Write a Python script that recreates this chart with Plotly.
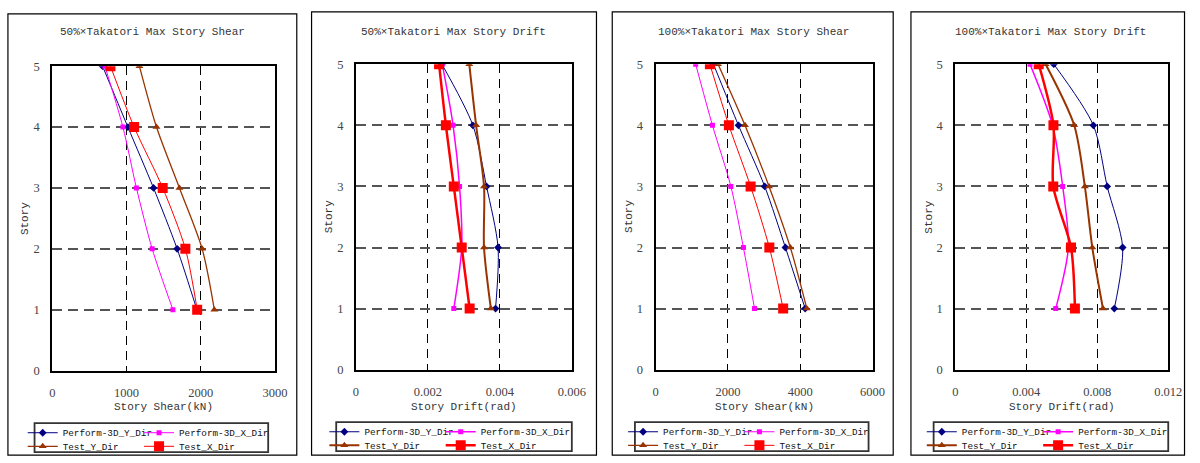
import plotly.graph_objects as go

# ---------------- data ----------------
stories = [1, 2, 3, 4, 5]

shear50_p3d_y = [1947, 1681, 1363, 1018, 677]
shear50_p3d_x = [1624, 1345, 1133, 951, 708]
shear50_test_y = [2182, 2018, 1712, 1403, 1173]
shear50_test_x = [1951, 1792, 1487, 1102, 783]

drift50_p3d_y = [0.00388, 0.00395, 0.00363, 0.00325, 0.00239]
drift50_p3d_x = [0.00272, 0.00294, 0.00288, 0.00270, 0.00240]
drift50_test_y = [0.00375, 0.00356, 0.00356, 0.00334, 0.00315]
drift50_test_x = [0.00316, 0.00294, 0.00272, 0.00250, 0.00231]

shear100_p3d_y = [4137, 3591, 3018, 2292, 1600]
shear100_p3d_x = [2737, 2428, 2082, 1572, 1108]
shear100_test_y = [4183, 3727, 3138, 2472, 1727]
shear100_test_x = [3528, 3146, 2628, 2027, 1501]

drift100_p3d_y = [0.00896, 0.00943, 0.00856, 0.00778, 0.00555]
drift100_p3d_x = [0.00566, 0.00637, 0.00605, 0.00548, 0.00421]
drift100_test_y = [0.00832, 0.00772, 0.00730, 0.00670, 0.00509]
drift100_test_x = [0.00674, 0.00652, 0.00552, 0.00553, 0.00470]

series_names = ["Perform-3D_Y_Dir", "Perform-3D_X_Dir", "Test_Y_Dir", "Test_X_Dir"]

titles = ["50%×Takatori Max Story Shear", "50%×Takatori Max Story Drift",
          "100%×Takatori Max Story Shear", "100%×Takatori Max Story Drift"]
xlabels = ["Story Shear(kN)", "Story Drift(rad)", "Story Shear(kN)", "Story Drift(rad)"]

shear50_ticks = [0, 1000, 2000, 3000]
shear50_ticktext = ["0", "1000", "2000", "3000"]
drift50_ticks = [0, 0.002, 0.004, 0.006]
drift50_ticktext = ["0", "0.002", "0.004", "0.006"]
shear100_ticks = [0, 2000, 4000, 6000]
shear100_ticktext = ["0", "2000", "4000", "6000"]
drift100_ticks = [0, 0.004, 0.008, 0.012]
drift100_ticktext = ["0", "0.004", "0.008", "0.012"]
story_ticks = [0, 1, 2, 3, 4, 5]

# ---------------- layout geometry (pixels) ----------------
W, H = 1200, 463
def fx(x): return x / W
def fy(y): return 1 - y / H

panels = [
    dict(data=[shear50_p3d_y, shear50_p3d_x, shear50_test_y, shear50_test_x],
         ticks=shear50_ticks, ticktext=shear50_ticktext,
         plot=(50, 276, 61, 375), frame=(5, 298, 7, 462), leg=(32, 269, 429, 459),
         title_x=152, thick=False),
    dict(data=[drift50_p3d_y, drift50_p3d_x, drift50_test_y, drift50_test_x],
         ticks=drift50_ticks, ticktext=drift50_ticktext,
         plot=(358, 577, 59, 374), frame=(313, 602, 5, 462), leg=(338, 577, 428, 458),
         title_x=457, thick=True),
    dict(data=[shear100_p3d_y, shear100_p3d_x, shear100_test_y, shear100_test_x],
         ticks=shear100_ticks, ticktext=shear100_ticktext,
         plot=(662, 882, 59, 374), frame=(618, 903, 5, 462), leg=(641, 878, 428, 458),
         title_x=761, thick=False),
    dict(data=[drift100_p3d_y, drift100_p3d_x, drift100_test_y, drift100_test_x],
         ticks=drift100_ticks, ticktext=drift100_ticktext,
         plot=(966, 1182, 59, 374), frame=(921, 1198.5, 5, 462), leg=(944, 1182, 428, 458),
         title_x=1063, thick=True),
]

colors = ["#000080", "#FF00FF", "#993300", "#FF0000"]
symbols = ["diamond", "square", "triangle-up", "square"]
msizes = [6, 5, 7, 10]
widths_thin = [1, 1, 1.3, 1]
widths_thick = [1, 1.5, 2, 2.5]

MONO = "Liberation Mono"
SERIF = "Liberation Serif"

fig = go.Figure()
layout = dict(
    width=W, height=H, margin=dict(l=0, r=0, t=0, b=0),
    paper_bgcolor="white", plot_bgcolor="white", showlegend=True,
    annotations=[], shapes=[],
)

leg_count = 0
for i, p in enumerate(panels):
    n = "" if i == 0 else str(i + 1)
    x0, x1, y0, y1 = p["plot"]
    layout["xaxis" + n] = dict(
        domain=[fx(x0), fx(x1)], anchor="y" + n,
        range=[p["ticks"][0], p["ticks"][-1]],
        tickvals=p["ticks"], ticktext=p["ticktext"],
        showgrid=True, gridcolor="black", gridwidth=1, griddash="9px,6px",
        showline=True, linecolor="black", linewidth=2, mirror=True,
        ticks="", zeroline=False, ticklabelstandoff=9,
        tickfont=dict(family=SERIF, size=12.5, color="#444"),
        fixedrange=True,
    )
    layout["yaxis" + n] = dict(
        domain=[fy(y1), fy(y0)], anchor="x" + n,
        range=[0, 5], tickvals=story_ticks,
        showgrid=True, gridcolor="#555", gridwidth=1.8, griddash="10px,6px",
        showline=True, linecolor="black", linewidth=2, mirror=True,
        ticks="", zeroline=False, ticklabelstandoff=8,
        tickfont=dict(family=SERIF, size=12.5, color="#444"),
        fixedrange=True,
    )
    widths = widths_thick if p["thick"] else widths_thin
    lx0, lx1, ly0, ly1 = p["leg"]
    # legend entry positions: 2 columns x 2 rows (text start x, row centre y)
    col_x = [lx0 + 28, lx0 + 146]
    row_y = [ly0 + 10, ly0 + 24]
    for k in range(4):
        leg_count += 1
        lg = "legend" if leg_count == 1 else "legend" + str(leg_count)
        fig.add_trace(go.Scatter(
            x=p["data"][k], y=stories, mode="lines+markers",
            name=series_names[k],
            xaxis="x" + n, yaxis="y" + n,
            line=dict(color=colors[k], width=widths[k], shape="spline", smoothing=0.8),
            marker=dict(symbol=symbols[k], size=msizes[k], color=colors[k],
                        line=dict(width=0)),
            legend=lg, showlegend=True,
            hoverinfo="skip",
        ))
        layout[lg] = dict(
            orientation="h", x=fx(col_x[k % 2] - 40), xanchor="left",
            y=fy(row_y[k // 2]), yanchor="middle",
            bgcolor="rgba(0,0,0,0)", borderwidth=0,
            font=dict(family=MONO, size=9.3, color="#111"),
            itemwidth=30,
        )
    # outer frame
    fx0, fx1, fy0, fy1 = p["frame"]
    layout["shapes"].append(dict(type="rect", xref="paper", yref="paper",
                                 x0=fx(fx0), x1=fx(fx1), y0=fy(fy1), y1=fy(fy0),
                                 line=dict(color="black", width=1.2)))
    # legend box
    layout["shapes"].append(dict(type="rect", xref="paper", yref="paper",
                                 x0=fx(lx0), x1=fx(lx1), y0=fy(ly1), y1=fy(ly0),
                                 line=dict(color="#333", width=1.8)))
    # title
    layout["annotations"].append(dict(text=titles[i], xref="paper", yref="paper",
                                      x=fx(p["title_x"]), y=fy(26), xanchor="center", yanchor="middle",
                                      showarrow=False, font=dict(family=MONO, size=11, color="#333")))
    # x axis title
    layout["annotations"].append(dict(text=xlabels[i], xref="paper", yref="paper",
                                      x=fx((x0 + x1) / 2), y=fy(412), xanchor="center", yanchor="middle",
                                      showarrow=False, font=dict(family=MONO, size=11, color="#333")))
    # y axis title
    layout["annotations"].append(dict(text="Story", xref="paper", yref="paper",
                                      x=fx(x0 - 27), y=fy((y0 + y1) / 2), xanchor="center", yanchor="middle",
                                      textangle=-90,
                                      showarrow=False, font=dict(family=MONO, size=11, color="#333")))

fig.update_layout(**layout)
fig.write_html("out.html",
               post_script="document.body.style.margin='0';document.body.style.overflow='hidden';")
